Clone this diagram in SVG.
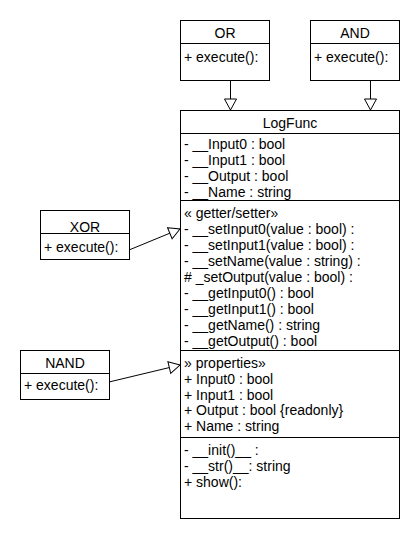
<svg xmlns="http://www.w3.org/2000/svg" width="420" height="540" viewBox="0 0 420 540">
<style>
.box{fill:#fff;stroke:#000;stroke-width:1}
.ln{stroke:#000;stroke-width:1;fill:none}
text{font-family:"Liberation Sans",Arial,sans-serif;font-size:14px;fill:#000}
.c{text-anchor:middle}
</style>
<defs>
<marker id="gen" markerWidth="14" markerHeight="14" refX="12" refY="6.5" orient="auto" markerUnits="userSpaceOnUse">
<path d="M1,0.5 L12,6.5 L1,12.5 Z" fill="#fff" stroke="#000" stroke-width="1"/>
</marker>
</defs>
<rect width="420" height="540" fill="#fff"/>
<g id="connectors">
<line class="ln" x1="230.5" y1="80" x2="230.5" y2="110" marker-end="url(#gen)"/>
<line class="ln" x1="370.5" y1="80" x2="370.5" y2="110" marker-end="url(#gen)"/>
<line class="ln" x1="129" y1="250" x2="180" y2="229" marker-end="url(#gen)"/>
<line class="ln" x1="109" y1="382" x2="180" y2="365" marker-end="url(#gen)"/>
</g>
<g id="OR">
<rect class="box" x="180.5" y="20.5" width="89" height="60"/>
<line class="ln" x1="180.5" y1="43.5" x2="269.5" y2="43.5"/>
<text class="c" x="225" y="38">OR</text>
<text x="184" y="61.5">+ execute():</text>
</g>
<g id="AND">
<rect class="box" x="310.5" y="20.5" width="89" height="60"/>
<line class="ln" x1="310.5" y1="43.5" x2="399.5" y2="43.5"/>
<text class="c" x="355" y="38">AND</text>
<text x="314" y="61.5">+ execute():</text>
</g>
<g id="XOR">
<rect class="box" x="40.5" y="210.5" width="89" height="49"/>
<line class="ln" x1="40.5" y1="233.5" x2="129.5" y2="233.5"/>
<text class="c" x="85" y="232">XOR</text>
<text x="44" y="251.5">+ execute():</text>
</g>
<g id="NAND">
<rect class="box" x="20.5" y="350.5" width="89" height="49"/>
<line class="ln" x1="20.5" y1="373.5" x2="109.5" y2="373.5"/>
<text class="c" x="65" y="368">NAND</text>
<text x="24" y="389.5">+ execute():</text>
</g>
<g id="LogFunc">
<rect class="box" x="180.5" y="110.5" width="219" height="408"/>
<line class="ln" x1="180.5" y1="133.5" x2="399.5" y2="133.5"/>
<line class="ln" x1="180.5" y1="200.5" x2="399.5" y2="200.5"/>
<line class="ln" x1="180.5" y1="350.5" x2="399.5" y2="350.5"/>
<line class="ln" x1="180.5" y1="437.5" x2="399.5" y2="437.5"/>
<text class="c" x="290" y="128">LogFunc</text>
<text x="184" y="149">- __Input0 : bool</text>
<text x="184" y="165">- __Input1 : bool</text>
<text x="184" y="181">- __Output : bool</text>
<text x="184" y="197">- __Name : string</text>
<text x="184" y="217.5">« getter/setter»</text>
<text x="184" y="233.5">- __setInput0(value : bool) :</text>
<text x="184" y="249.5">- __setInput1(value : bool) :</text>
<text x="184" y="265.5">- __setName(value : string) :</text>
<text x="184" y="281.5"># _setOutput(value : bool) :</text>
<text x="184" y="297.5">- __getInput0() : bool</text>
<text x="184" y="313.5">- __getInput1() : bool</text>
<text x="184" y="329.5">- __getName() : string</text>
<text x="184" y="345.5">- __getOutput() : bool</text>
<text x="184" y="367.5">» properties»</text>
<text x="184" y="383.5">+ Input0 : bool</text>
<text x="184" y="399.5">+ Input1 : bool</text>
<text x="184" y="415">+ Output : bool {readonly}</text>
<text x="184" y="431">+ Name : string</text>
<text x="184" y="454.5">- __init()__ :</text>
<text x="184" y="470.5">- __str()__: string</text>
<text x="184" y="486.5">+ show():</text>
</g>
</svg>
